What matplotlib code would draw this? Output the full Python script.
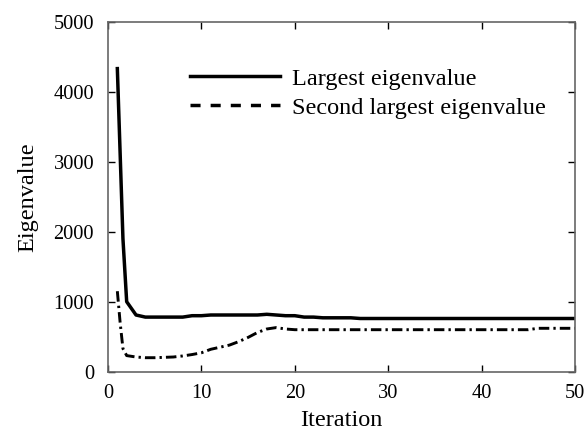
import matplotlib
matplotlib.use("Agg")
import matplotlib.pyplot as plt
from matplotlib.lines import Line2D

plt.rcParams['font.family'] = ['Liberation Serif', 'DejaVu Serif']

iter_largest = [1, 1.6, 2, 3, 4, 5, 6, 7, 8, 9, 10, 11, 12, 13, 14, 15, 16, 17, 18, 19, 20, 21, 22, 23, 24, 25, 26, 27, 28, 30, 35, 40, 45, 50]
largest = [4330, 1900, 1000, 810, 780, 780, 780, 780, 780, 800, 800, 810, 810, 810, 810, 810, 810, 820, 810, 800, 800, 780, 780, 770, 770, 770, 770, 760, 760, 760, 760, 760, 760, 760]

iter_second = [1, 1.3, 1.6, 2, 3, 4, 5, 6, 7, 8, 9, 10, 11, 12, 13, 14, 15, 16, 17, 18, 19, 20, 25, 30, 35, 40, 45, 46, 50]
second = [1150, 700, 330, 230, 210, 200, 200, 205, 210, 225, 245, 270, 320, 350, 380, 430, 490, 560, 610, 630, 610, 600, 600, 600, 600, 600, 600, 620, 620]

x_ticks = [0, 10, 20, 30, 40, 50]
y_ticks = [0, 1000, 2000, 3000, 4000, 5000]
labels = ["Largest eigenvalue", "Second largest eigenvalue"]

fig = plt.figure(figsize=(5.86, 4.42), dpi=100)
ax = fig.add_axes([108/586, 1 - 371.7/442, (575 - 108)/586, (371.7 - 21.7)/442])

ax.plot(iter_largest, largest, color='black', lw=2.5, solid_joinstyle='round')
ax.plot(iter_second, second, color='black', lw=2.1, linestyle=(0, (3.6, 1.4, 0.8, 1.4)))

ax.set_xlim(0, 50)
ax.set_ylim(0, 5000)
ax.set_xticks(x_ticks)
ax.set_yticks(y_ticks)
ax.tick_params(direction='in', top=True, right=True, length=5, width=1, labelsize=14.7, colors='black')
ax.tick_params(axis='y', pad=10)
ax.tick_params(axis='x', pad=9)
for s in ax.spines.values():
    s.set_color('#666666')
    s.set_linewidth(1.2)

ax.set_xlabel("Iteration", fontsize=17.5, labelpad=5)
ax.set_ylabel("Eigenvalue", fontsize=17.5, labelpad=11)

handles = [Line2D([], [], color='black', lw=2.5),
           Line2D([], [], color='black', lw=2.5, linestyle=(0, (2.9, 2.9)))]
ax.legend(handles, labels, loc='upper left', bbox_to_anchor=(0.176, 0.868), frameon=False,
          fontsize=17.5, handlelength=3.7, handletextpad=0.5, labelspacing=0.28, borderpad=0, borderaxespad=0)

fig.savefig("out.png", dpi=100)
